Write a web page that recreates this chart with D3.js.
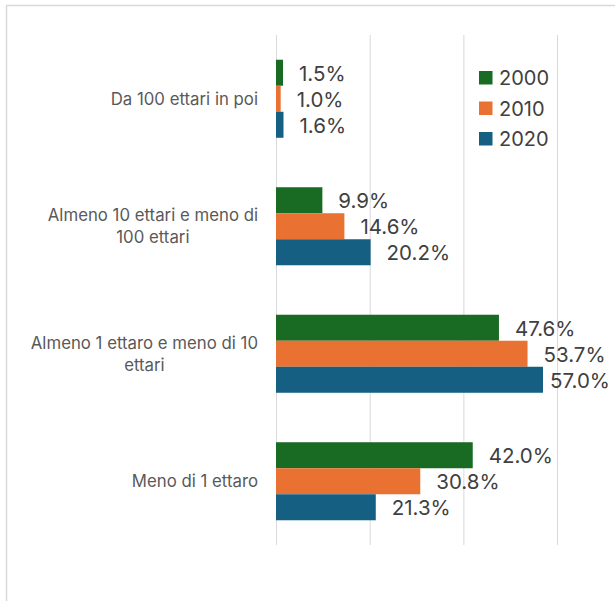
<!DOCTYPE html>
<html>
<head>
<meta charset="utf-8">
<script src="https://cdn.jsdelivr.net/npm/d3@7"></script>
<style>
  html, body { margin: 0; padding: 0; background: #fff; }
  svg { display: block; font-family: Inter, "Noto Sans", sans-serif; }
</style>
</head>
<body>
<div id="chart"></div>
<script>
// categories top to bottom, each one is a list of label lines
var categories = ['Da 100 ettari in poi', 'Almeno 10 ettari e meno di 100 ettari',
    'Almeno 1 ettaro e meno di 10 ettari', 'Meno di 1 ettaro'];
var labelLines = [['Da 100 ettari in poi'], ['Almeno 10 ettari e meno di', '100 ettari'],
    ['Almeno 1 ettaro e meno di 10', 'ettari'], ['Meno di 1 ettaro']];
var years = ['2000', '2010', '2020'];
var values2000 = [1.5, 9.9, 47.6, 42.0];
var values2010 = [1.0, 14.6, 53.7, 30.8];
var values2020 = [1.6, 20.2, 57.0, 21.3];
var gridTicks = [0, 20, 40, 60, 80];

var colors = { '2000': '#196B24', '2010': '#E97132', '2020': '#156082' };

var W = 615, H = 601;

var svg = d3.select('#chart').append('svg')
    .attr('width', W)
    .attr('height', H);

// chart area border (runs off the right and bottom of the picture)
svg.append('rect')
    .attr('x', 6.5).attr('y', 5.5)
    .attr('width', 700).attr('height', 700)
    .style('fill', '#fff')
    .style('stroke', '#d9d9d9')
    .style('stroke-width', 1.5);

var plotTop = 35, plotBottom = 545, x0 = 276;

var x = d3.scaleLinear()
    .domain([0, 80])
    .range([x0, x0 + 4.684 * 80]);

var y = d3.scaleBand()
    .domain(categories)
    .range([plotTop, plotBottom])
    .paddingInner(0.388)
    .paddingOuter(0.194);

var ySub = d3.scaleBand()
    .domain(years)
    .range([0, y.bandwidth()]);

// vertical gridlines
var grid = svg.append('g')
    .attr('transform', 'translate(0,' + plotBottom + ')')
    .call(d3.axisBottom(x).tickValues(gridTicks).tickSize(-(plotBottom - plotTop)).tickFormat(''));
grid.select('.domain').remove();
grid.selectAll('.tick line')
    .style('stroke', '#d9d9d9')
    .style('stroke-width', 1);

var rows = categories.map(function (c, i) {
    return {
        cat: c,
        lines: labelLines[i],
        values: [
            { year: '2000', value: values2000[i] },
            { year: '2010', value: values2010[i] },
            { year: '2020', value: values2020[i] }
        ]
    };
});

var groups = svg.selectAll('.group')
    .data(rows)
    .join('g')
    .attr('class', 'group')
    .attr('transform', function (d) { return 'translate(0,' + y(d.cat) + ')'; });

groups.selectAll('rect')
    .data(function (d) { return d.values; })
    .join('rect')
    .attr('x', x(0))
    .attr('y', function (d) { return ySub(d.year); })
    .attr('width', function (d) { return x(d.value) - x(0); })
    .attr('height', ySub.bandwidth())
    .style('fill', function (d) { return colors[d.year]; });

// data labels, pushed back inside the chart when they would overflow
groups.selectAll('.val')
    .data(function (d) { return d.values; })
    .join('text')
    .attr('class', 'val')
    .attr('x', function (d) { return x(d.value) + 16; })
    .attr('y', function (d) { return ySub(d.year) + ySub.bandwidth() / 2; })
    .attr('dy', '0.4em')
    .style('font-size', '20.5px')
    .style('fill', '#404040')
    .text(function (d) { return d.value.toFixed(1) + '%'; })
    .each(function () {
        var t = d3.select(this);
        var w = this.getComputedTextLength();
        if (+t.attr('x') + w > 610) t.attr('x', 610 - w);
    });

// category labels: wrapped block right aligned to the axis, lines centred in the block
var labelRight = 258, lineH = 22;
groups.each(function (d) {
    var g = d3.select(this);
    var cy = y.bandwidth() / 2;
    var texts = d.lines.map(function (line, i) {
        return g.append('text')
            .attr('y', cy + (i - (d.lines.length - 1) / 2) * lineH)
            .attr('dy', '0.35em')
            .style('font-size', '16.8px')
            .style('fill', '#595959')
            .style('text-anchor', 'middle')
            .text(line);
    });
    var blockW = d3.max(texts, function (t) { return t.node().getComputedTextLength(); });
    texts.forEach(function (t) { t.attr('x', labelRight - blockW / 2); });
});

// legend
var legend = svg.selectAll('.legend')
    .data(years)
    .join('g')
    .attr('class', 'legend')
    .attr('transform', function (d, i) { return 'translate(479,' + (71 + i * 30.5) + ')'; });

legend.append('rect')
    .attr('width', 13.5)
    .attr('height', 13.5)
    .style('fill', function (d) { return colors[d]; });

legend.append('text')
    .attr('x', 20)
    .attr('y', 14)
    .style('font-size', '20px')
    .style('fill', '#404040')
    .text(function (d) { return d; });
</script>
</body>
</html>
